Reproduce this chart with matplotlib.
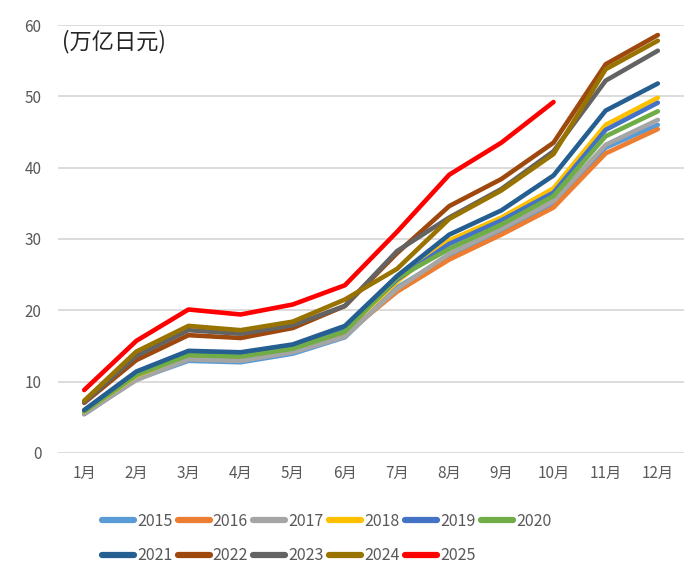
import matplotlib
matplotlib.use("Agg")
import matplotlib.pyplot as plt
from matplotlib.lines import Line2D

plt.rcParams['font.family'] = ['Noto Sans CJK SC', 'DejaVu Sans']

# month labels
months = ["1月", "2月", "3月", "4月", "5月", "6月", "7月", "8月", "9月", "10月", "11月", "12月"]

# cumulative values, 万亿日元
y2015 = [5.4, 10.3, 12.9, 12.7, 13.9, 16.2, 23.2, 27.6, 31.0, 35.0, 42.8, 46.0]
y2016 = [5.5, 10.4, 13.4, 13.2, 14.3, 16.6, 22.6, 27.1, 30.6, 34.4, 42.0, 45.4]
y2017 = [5.5, 10.2, 13.1, 12.9, 14.1, 16.3, 23.0, 27.9, 31.4, 35.3, 43.2, 46.7]
y2018 = [5.8, 10.8, 13.8, 13.6, 14.7, 17.2, 24.0, 29.8, 33.0, 37.1, 46.0, 49.8]
y2019 = [5.9, 11.0, 14.0, 13.8, 15.0, 17.4, 24.3, 29.3, 32.6, 36.5, 45.3, 49.1]
y2020 = [5.8, 10.9, 13.7, 13.5, 14.6, 17.0, 24.5, 28.6, 32.0, 36.0, 44.4, 47.9]
y2021 = [6.0, 11.4, 14.3, 14.1, 15.2, 17.8, 24.8, 30.6, 34.0, 38.9, 48.0, 51.8]
y2022 = [7.0, 13.0, 16.5, 16.1, 17.5, 20.6, 28.0, 34.6, 38.4, 43.5, 54.5, 58.6]
y2023 = [7.1, 13.6, 17.2, 16.7, 17.9, 20.6, 28.3, 33.0, 37.0, 42.3, 52.2, 56.4]
y2024 = [7.3, 14.2, 17.8, 17.2, 18.4, 21.5, 25.8, 32.8, 36.8, 41.9, 53.8, 57.8]
y2025 = [8.8, 15.7, 20.1, 19.4, 20.8, 23.5, 31.0, 39.0, 43.5, 49.2]

years = ["2015", "2016", "2017", "2018", "2019", "2020",
         "2021", "2022", "2023", "2024", "2025"]
series = [y2015, y2016, y2017, y2018, y2019, y2020,
          y2021, y2022, y2023, y2024, y2025]
colors = ["#5B9BD5", "#ED7D31", "#A5A5A5", "#FFC000", "#4472C4", "#70AD47",
          "#255E91", "#9E480E", "#636363", "#997300", "#FF0000"]

fig = plt.figure(figsize=(7.0, 5.82), dpi=100)
ax = fig.add_axes([0.083, 0.222, 0.894, 0.735])

handles = {}
for yr, vals, c in zip(years, series, colors):
    ax.plot(range(len(vals)), vals, color=c, lw=3.3,
            solid_joinstyle='round', solid_capstyle='round')
    handles[yr] = Line2D([], [], color=c, lw=4.5, solid_capstyle='round')

ax.set_xlim(-0.5, 11.5)
ax.set_ylim(0, 60)
ax.set_yticks(range(0, 61, 10))
ax.set_xticks(range(12))
ax.set_xticklabels(months)
ax.grid(axis='y', color='#D9D9D9', lw=1.3)
ax.set_axisbelow(True)
for s in ax.spines.values():
    s.set_visible(False)
ax.tick_params(length=0, labelsize=11, colors='#595959')
ax.tick_params(axis='y', pad=12)
ax.tick_params(axis='x', pad=9)

ax.text(0.007, 0.962, "(万亿日元)", transform=ax.transAxes, fontsize=16,
        color='#262626', va='center', ha='left')

# row-major order for the 2-row legend
order = ["2015", "2021", "2016", "2022", "2017", "2023",
         "2018", "2024", "2019", "2025", "2020"]
leg = fig.legend([handles[k] for k in order], order, ncol=6,
                 loc='center left', bbox_to_anchor=(0.125, 0.075),
                 frameon=False, fontsize=11.5, handlelength=2.0,
                 handletextpad=0.2, columnspacing=0.33, labelspacing=1.1,
                 labelcolor='#595959')

fig.savefig("out.png", dpi=100)
